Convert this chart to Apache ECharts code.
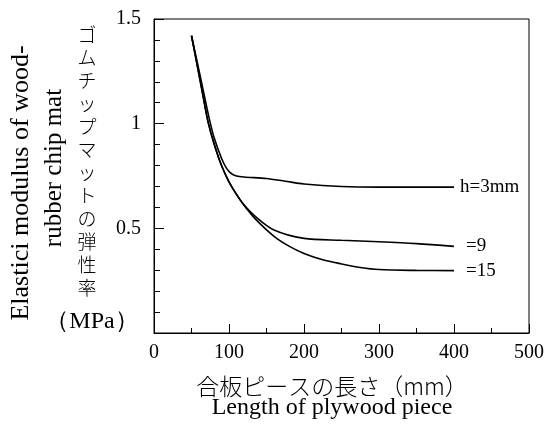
<!DOCTYPE html>
<html><head><meta charset="utf-8">
<script src="https://cdn.jsdelivr.net/npm/echarts@6/dist/echarts.min.js"></script>
<style>html,body{margin:0;padding:0;background:#fff}#c{width:547px;height:432px}</style>
</head><body><div id="c"></div>
<script>
const seriesNames = ['h=3mm', '=9', '=15'];
const h3 = [[50,1.42],[57,1.305],[65,1.17],[73,1.035],[80,0.935],[90,0.835],[97,0.785],[103,0.762],[110,0.75],[120,0.745],[150,0.738],[175,0.725],[200,0.712],[250,0.70],[300,0.697],[400,0.697]];
const h9 = [[50,1.42],[57,1.29],[65,1.14],[72,1.01],[80,0.905],[90,0.80],[100,0.722],[110,0.662],[120,0.612],[135,0.557],[160,0.492],[200,0.452],[250,0.443],[300,0.436],[350,0.427],[400,0.414]];
const h15 = [[50,1.42],[57,1.29],[65,1.14],[72,1.01],[80,0.905],[90,0.80],[100,0.722],[110,0.662],[120,0.61],[135,0.545],[160,0.462],[180,0.415],[200,0.38],[225,0.35],[250,0.33],[275,0.313],[300,0.303],[350,0.299],[400,0.298]];
const xTicks = [0,100,200,300,400,500];
const yTicks = [0.5,1,1.5];

const chart = echarts.init(document.getElementById('c'));
const F = '"Liberation Serif", "Times New Roman", serif';
const JF = '"Noto Sans CJK JP", sans-serif';
function mk(name, data, dist){
  return {type:'line', name, data, smooth:0.3, showSymbol:false,
    lineStyle:{color:'#000', width:1.6},
    endLabel:{show:true, formatter:'{a}', color:'#000', fontFamily:F, fontSize:19, distance:dist}};
}
const jp = 'ゴムチップマットの弾性率'.split('').join('\n');
chart.setOption({
  animation:false,
  grid:{left:154, right:17, top:19, bottom:99, show:true, borderColor:'#000', borderWidth:1},
  xAxis:{type:'value', min:0, max:500, interval:100,
    axisLine:{lineStyle:{color:'#000', width:1}},
    axisTick:{inside:true, length:9, lineStyle:{color:'#000'}},
    minorTick:{show:true, splitNumber:2, length:5, lineStyle:{color:'#000'}},
    splitLine:{show:false},
    axisLabel:{color:'#000', fontFamily:F, fontSize:20, margin:10,
      formatter:v=>xTicks.includes(v)?String(v):''}},
  yAxis:{type:'value', min:0, max:1.5, interval:0.5,
    axisLine:{show:true, lineStyle:{color:'#000', width:1}},
    axisTick:{show:true, inside:true, length:10, lineStyle:{color:'#000'}},
    minorTick:{show:true, splitNumber:5, length:6, lineStyle:{color:'#000'}},
    splitLine:{show:false},
    axisLabel:{color:'#000', fontFamily:F, fontSize:20, margin:13,
      formatter:v=>yTicks.includes(v)?String(v):''}},
  series:[mk(seriesNames[0],h3,6), mk(seriesNames[1],h9,12), mk(seriesNames[2],h15,12)],
  graphic:[
    {type:'text', x:21, y:183, rotation:Math.PI/2, style:{text:'Elastici modulus of wood-', font:'26px '+F, fill:'#000', align:'center', verticalAlign:'middle'}},
    {type:'text', x:54, y:168, rotation:Math.PI/2, style:{text:'rubber chip mat', font:'25px '+F, fill:'#000', align:'center', verticalAlign:'middle'}},
    {type:'text', x:87, y:23, style:{text:jp, font:'300 19px '+JF, fill:'#000', align:'center', verticalAlign:'top', lineHeight:23}},
    {type:'text', x:92, y:322, style:{text:'（MPa）', font:'24px '+F, fill:'#000', align:'center', verticalAlign:'middle'}},
    {type:'text', x:332, y:386, style:{text:'合板ピースの長さ（mm）', font:'300 23px '+JF, fill:'#000', align:'center', verticalAlign:'middle'}},
    {type:'text', x:332, y:408, style:{text:'Length of plywood piece', font:'24px '+F, fill:'#000', align:'center', verticalAlign:'middle'}}
  ]
});
</script></body></html>
